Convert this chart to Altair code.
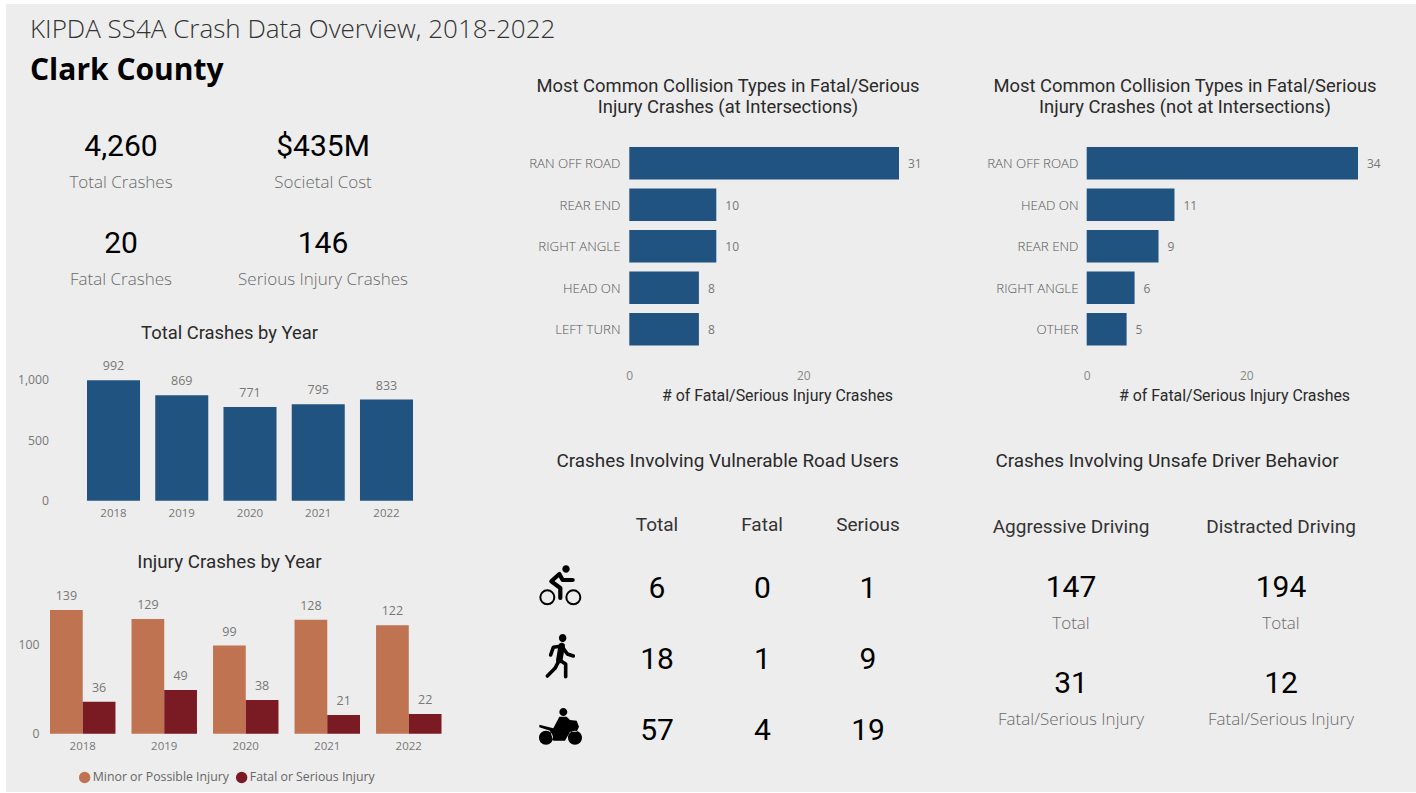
import altair as alt
import pandas as pd

# ---- values ----
years = ["2018", "2019", "2020", "2021", "2022"]
total_crashes = [992, 869, 771, 795, 833]
minor_injury = [139, 129, 99, 128, 122]
fatal_serious = [36, 49, 38, 21, 22]
injury_series = ["Minor or Possible Injury", "Fatal or Serious Injury"]

types_at = ["RAN OFF ROAD", "REAR END", "RIGHT ANGLE", "HEAD ON", "LEFT TURN"]
counts_at = [31, 10, 10, 8, 8]
types_not_at = ["RAN OFF ROAD", "HEAD ON", "REAR END", "RIGHT ANGLE", "OTHER"]
counts_not_at = [34, 11, 9, 6, 5]

road_users = ["Bicyclist", "Pedestrian", "Motorcyclist"]
road_measures = ["Total", "Fatal", "Serious"]
road_values = [[6, 0, 1], [18, 1, 9], [57, 4, 19]]

# ---- styling ----
BLUE = "#215381"
ORANGE = "#BF7350"
DARK_RED = "#7A1A23"
PANEL = "#EDEDED"
DIN = "Roboto"
SEGOE = "Open Sans"
BAR_LABEL = "#777777"


def label(text, x, y, size, font=SEGOE, color="#666666", weight=400, align="center"):
    """One line of free-standing dashboard text."""
    return alt.Chart(pd.DataFrame({"t": [text]})).mark_text(
        font=font, fontSize=size, color=color, fontWeight=weight, align=align,
        baseline="middle",
    ).encode(x=alt.value(x), y=alt.value(y), text="t:N")


def heading(text, x, y, size=18.4):
    return label(text, x, y - 0.5, size, font=DIN, color="#2a2a2a", weight=400)


def column_head(text, x, y, size=19):
    return label(text, x, y, size, font=DIN, color="#333333", weight=400)


def figure(text, x, y, size=30):
    return label(text, x, y + 1.5, size, font=DIN, color="#000000", weight=400)


def caption(text, x, y, size=17):
    return label(text, x, y + 1, size, font=SEGOE, color="#6a6a6a", weight=300)


def year_axis(baseline):
    return alt.Axis(
        orient="bottom", offset=baseline - 793, domain=False, ticks=False, grid=False,
        labelFont=SEGOE, labelFontSize=11.5, labelColor=BAR_LABEL, labelPadding=7,
        labelAngle=0, title=None, zindex=1,
    )


def value_axis(values, right_edge, fmt):
    return alt.Axis(
        orient="left", offset=-right_edge - 3, domain=False, ticks=False, grid=False,
        values=values, format=fmt, labelFont=SEGOE, labelFontSize=12.2,
        labelColor=BAR_LABEL, labelPadding=3, title=None, zindex=1,
    )


def collision_panel(types, counts, x_range, max_count, label_edge, title_x):
    data = pd.DataFrame({"type": types, "count": counts})
    x = alt.X(
        "count:Q",
        scale=alt.Scale(domain=[0, max_count], range=x_range, nice=False, zero=True),
        axis=alt.Axis(
            orient="bottom", offset=-432, domain=False, ticks=False, grid=False,
            values=[0, 20], labelFont=SEGOE, labelFontSize=12, labelColor="#888888",
            labelPadding=9, labelFlush=False, title="# of Fatal/Serious Injury Crashes",
            titleFont=DIN, titleFontSize=15.9, titleFontWeight=400, titleColor="#2a2a2a",
            titleX=title_x, titleAlign="center", titlePadding=6, zindex=1,
        ),
    )
    y = alt.Y(
        "type:N", sort=None,
        scale=alt.Scale(domain=types, range=[147, 345.5], paddingInner=0.219, paddingOuter=0),
        axis=alt.Axis(
            orient="left", offset=-label_edge - 3, domain=False, ticks=False, grid=False,
            labelFont=SEGOE, labelFontSize=13.3, labelFontWeight=300, labelColor="#555555",
            labelPadding=3, labelOffset=1, title=None, zindex=1,
        ),
    )
    bars = alt.Chart(data).mark_bar(color=BLUE).encode(x=x, y=y)
    text = alt.Chart(data).mark_text(
        align="left", dx=9, dy=1, font=SEGOE, fontSize=12, color=BAR_LABEL, baseline="middle",
    ).encode(x=x, y=y, text="count:Q")
    return alt.layer(bars, text)


# ---- panel background ----
background = alt.Chart(pd.DataFrame({"a": [0]})).mark_rect(color=PANEL).encode(
    x=alt.value(6), x2=alt.value(1416), y=alt.value(4), y2=alt.value(792)
)

# ---- total crashes by year ----
total_df = pd.DataFrame({"year": years, "crashes": total_crashes})
total_x = alt.X(
    "year:N",
    scale=alt.Scale(domain=years, range=[87, 413], paddingInner=0.223, paddingOuter=0),
    axis=year_axis(500.7),
)
total_y = alt.Y(
    "crashes:Q",
    scale=alt.Scale(domain=[0, 1000], range=[500.7, 379.3], nice=False),
    axis=value_axis([0, 500, 1000], 48.5, ",d"),
)
total_panel = alt.layer(
    alt.Chart(total_df).mark_bar(color=BLUE).encode(x=total_x, y=total_y),
    alt.Chart(total_df).mark_text(
        dy=-14, font=SEGOE, fontSize=12.5, color=BAR_LABEL, baseline="middle"
    ).encode(x=total_x, y=total_y, text="crashes:Q"),
)

# ---- injury crashes by year ----
injury_df = pd.DataFrame(
    {
        "year": years * 2,
        "series": [injury_series[0]] * 5 + [injury_series[1]] * 5,
        "crashes": minor_injury + fatal_serious,
    }
)
injury_x = alt.X(
    "year:N",
    scale=alt.Scale(domain=years, range=[50, 441.5], paddingInner=0.197, paddingOuter=0),
    axis=year_axis(733.7),
)
injury_y = alt.Y(
    "crashes:Q",
    scale=alt.Scale(domain=[0, 139], range=[733.7, 610], nice=False),
    axis=value_axis([0, 100], 39, "d"),
)
injury_offset = alt.XOffset("series:N", scale=alt.Scale(domain=injury_series), sort=None)
injury_panel = alt.layer(
    alt.Chart(injury_df).mark_bar().encode(
        x=injury_x, xOffset=injury_offset, y=injury_y,
        color=alt.Color(
            "series:N",
            scale=alt.Scale(domain=injury_series, range=[ORANGE, DARK_RED]),
            legend=alt.Legend(
                orient="none", legendX=78.5, legendY=771, direction="horizontal", title=None,
                symbolType="circle", symbolSize=130, symbolStrokeWidth=0, labelFont=SEGOE,
                labelFontSize=12.3, labelColor="#666666", labelOffset=2, columnPadding=6,
                columns=2,
            ),
        ),
    ),
    alt.Chart(injury_df).mark_text(
        dy=-14, font=SEGOE, fontSize=12.5, color=BAR_LABEL, baseline="middle"
    ).encode(x=injury_x, xOffset=injury_offset, y=injury_y, text="crashes:Q"),
)

# ---- vulnerable road users table ----
road_df = pd.DataFrame(
    [
        {"user": u, "measure": m, "value": road_values[i][j]}
        for i, u in enumerate(road_users)
        for j, m in enumerate(road_measures)
    ]
)
road_x = alt.X(
    "measure:N", axis=None,
    scale=alt.Scale(type="point", domain=road_measures, range=[657, 868], padding=0),
)
road_y = alt.Y(
    "user:N", axis=None,
    scale=alt.Scale(type="point", domain=road_users, range=[587, 729], padding=0),
)
road_numbers = alt.Chart(road_df).mark_text(
    font=DIN, fontSize=30, fontWeight=400, color="#000000", baseline="middle", dy=2
).encode(x=road_x, y=road_y, text="value:Q")


# ---- road user pictograms, sketched on a 3-per-pixel grid around each row centre ----
def grid_xy(x, y, cy):
    return (x - 121.5) / 66, (y - cy) / 66


def circle(cx, cy, r, mid):
    x, y = grid_xy(cx, cy, mid)
    rr = r / 66
    return f"M{x - rr:.3f},{y:.3f}A{rr:.3f},{rr:.3f} 0 1 0 {x + rr:.3f},{y:.3f}A{rr:.3f},{rr:.3f} 0 1 0 {x - rr:.3f},{y:.3f}Z"


def polyline(points, mid, close=False):
    cmds = []
    for k, (x, y) in enumerate(points):
        u, v = grid_xy(x, y, mid)
        cmds.append(f"{'M' if k == 0 else 'L'}{u:.3f},{v:.3f}")
    return "".join(cmds) + ("Z" if close else "")


BIKE = 81
WALK = 294
MOTO = 507
bike_fill = circle(138, 27, 11, BIKE)
bike_limbs = polyline([(158, 60), (128, 60), (118, 42), (94, 64), (121, 84), (121, 114)], BIKE)
bike_wheels = circle(82, 112, 21, BIKE) + circle(160, 112, 21, BIKE)
walk_fill = circle(128, 234, 11, WALK)
walk_limbs = (
    polyline([(92, 285), (100, 262), (125, 258), (142, 282), (160, 288)], WALK)
    + polyline([(82, 348), (105, 325), (118, 300), (137, 312), (137, 350)], WALK)
)
walk_torso = polyline([(125, 258), (118, 300)], WALK)
moto_fill = (
    circle(130, 456, 12, MOTO)
    + circle(78, 533, 21, MOTO)
    + circle(165, 533, 21, MOTO)
    + polyline(
        [(58, 494), (100, 505), (118, 470), (140, 470), (150, 480), (170, 482), (177, 500),
         (170, 515), (150, 515), (135, 542), (100, 542), (90, 512), (58, 502)],
        MOTO, close=True,
    )
)


def pictogram(user, path, filled, stroke_width=0):
    mark = dict(shape=path, size=1936, opacity=1, color="#000000", filled=filled)
    if not filled:
        mark.update(strokeWidth=stroke_width, strokeCap="round", strokeJoin="round")
    return alt.Chart(pd.DataFrame({"user": [user]})).mark_point(**mark).encode(
        x=alt.value(560.5), y=road_y
    )


icons = [
    pictogram(road_users[0], bike_fill, True),
    pictogram(road_users[0], bike_limbs, False, 4.2),
    pictogram(road_users[0], bike_wheels, False, 2),
    pictogram(road_users[1], walk_fill, True),
    pictogram(road_users[1], walk_limbs, False, 3.6),
    pictogram(road_users[1], walk_torso, False, 6.5),
    pictogram(road_users[2], moto_fill, True),
]

# ---- assemble the dashboard ----
chart = alt.layer(
    background,
    label("KIPDA SS4A Crash Data Overview, 2018-2022", 30, 30, 26, color="#333333", weight=300, align="left"),
    label("Clark County", 30, 71, 30, color="#000000", weight=700, align="left"),
    figure("4,260", 121, 145), caption("Total Crashes", 121, 182),
    figure("$435M", 323, 145), caption("Societal Cost", 323, 182),
    figure("20", 121, 242), caption("Fatal Crashes", 121, 279),
    figure("146", 323, 242), caption("Serious Injury Crashes", 323, 279),
    heading("Total Crashes by Year", 229.5, 333.5),
    total_panel,
    heading("Injury Crashes by Year", 229.5, 562.5, size=18.8),
    injury_panel,
    heading("Most Common Collision Types in Fatal/Serious", 728, 86.5),
    heading("Injury Crashes (at Intersections)", 728, 107.5),
    collision_panel(types_at, counts_at, [629.3, 899], 31, 620, 777),
    heading("Most Common Collision Types in Fatal/Serious", 1185, 86.5),
    heading("Injury Crashes (not at Intersections)", 1185, 107.5),
    collision_panel(types_not_at, counts_not_at, [1086.7, 1358], 34, 1078, 1234),
    heading("Crashes Involving Vulnerable Road Users", 727.5, 461.5, size=18.9),
    column_head("Total", 657, 524.5),
    column_head("Fatal", 762, 524.5),
    column_head("Serious", 868, 524.5),
    road_numbers,
    *icons,
    heading("Crashes Involving Unsafe Driver Behavior", 1167, 461.5, size=18.9),
    column_head("Aggressive Driving", 1071, 526.5),
    column_head("Distracted Driving", 1281, 526.5),
    figure("147", 1071, 586), caption("Total", 1071, 623),
    figure("194", 1281, 586), caption("Total", 1281, 623),
    figure("31", 1071, 682), caption("Fatal/Serious Injury", 1071, 719),
    figure("12", 1281, 682), caption("Fatal/Serious Injury", 1281, 719),
).resolve_scale(x="independent", y="independent", color="independent").resolve_axis(
    x="independent", y="independent"
).properties(
    width=1416, height=793, padding=0, background="#FFFFFF",
    autosize=alt.AutoSizeParams(type="none"),
).configure_view(stroke=None)

chart.save("out.html", embed_options={"renderer": "svg", "actions": False})
